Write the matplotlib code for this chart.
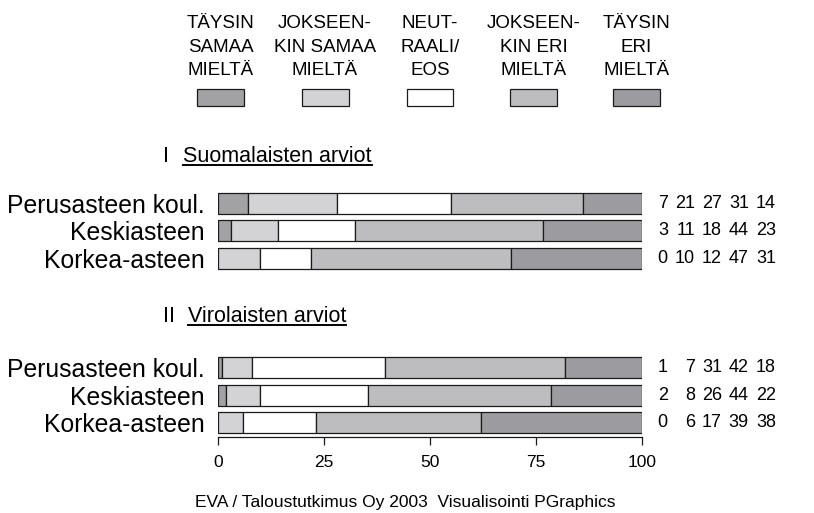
import matplotlib
matplotlib.use('Agg')
import matplotlib.pyplot as plt
from matplotlib import font_manager
from matplotlib.patches import Rectangle
from matplotlib.lines import Line2D
import numpy as np

plt.rcParams['font.family'] = ['Liberation Sans', 'DejaVu Sans']

# data
rows = ['Perusasteen koul.', 'Keskiasteen', 'Korkea-asteen']
finns = [[7, 21, 27, 31, 14],
         [3, 11, 18, 44, 23],
         [0, 10, 12, 47, 31]]
estonians = [[1, 7, 31, 42, 18],
             [2, 8, 26, 44, 22],
             [0, 6, 17, 39, 38]]
group_titles = ['Suomalaisten arviot', 'Virolaisten arviot']
group_numerals = ['I', 'II']
answer_labels = [['TÄYSIN', 'SAMAA', 'MIELTÄ'],
                 ['JOKSEEN-', 'KIN SAMAA', 'MIELTÄ'],
                 ['NEUT-', 'RAALI/', 'EOS'],
                 ['JOKSEEN-', 'KIN ERI', 'MIELTÄ'],
                 ['TÄYSIN', 'ERI', 'MIELTÄ']]
colors = ['#a2a2a5', '#d3d3d5', '#ffffff', '#bdbdbf', '#9c9ca0']
credit = 'EVA / Taloustutkimus Oy 2003  Visualisointi PGraphics'

W, H = 814, 513
fig = plt.figure(figsize=(W / 100, H / 100), dpi=100)

def fx(px):
    return px / W

def fy(py):
    return (H - py) / H

ax = fig.add_axes([fx(218), fy(437), fx(642) - fx(218), (437 - 189.8) / H])

positions = [0, 1, 2, 6, 7, 8]
all_rows = finns + estonians
edge = '#1a1a1a'
for pos, vals in zip(positions, all_rows):
    vals = np.array(vals, dtype=float)
    shares = vals / vals.sum() * 100
    lefts = np.concatenate([[0], np.cumsum(shares)[:-1]])
    ax.barh([pos] * 5, shares, left=lefts, height=0.77, color=colors,
            edgecolor=edge, linewidth=0.9)
    for k, v in enumerate(vals):
        ax.text(106.1 + k * 6.37, pos, f'{int(v)}', ha='right', va='center',
                fontsize=13, clip_on=False)

ax.set_xlim(0, 100)
ax.set_ylim(8.53, -0.5)
ax.set_yticks(positions)
ax.set_yticklabels(rows + rows, fontsize=17.8)
ax.tick_params(axis='y', length=0, pad=9.4)
ax.set_xticks([0, 25, 50, 75, 100])
ax.tick_params(axis='x', length=6, width=0.9, pad=7, labelsize=12.5, color=edge)
for s in ['left', 'top', 'right']:
    ax.spines[s].set_visible(False)
ax.spines['bottom'].set_linewidth(0.9)
ax.spines['bottom'].set_color(edge)

# legend
names = {f.name for f in font_manager.fontManager.ttflist}
if 'Liberation Sans Narrow' in names:
    leg_font, leg_size = 'Liberation Sans Narrow', 15
else:
    leg_font, leg_size = 'Liberation Sans', 13.5
centers = [220.5, 325, 430, 533.5, 636.5]
for cx, lines, c in zip(centers, answer_labels, colors):
    for line, base in zip(lines, [28, 51.5, 75]):
        fig.text(fx(cx), fy(base), line, ha='center', va='baseline',
                 fontsize=leg_size, family=[leg_font, 'DejaVu Sans'])
    fig.patches.append(Rectangle((fx(cx - 23.5), fy(106)), fx(47), 17 / H,
                                 facecolor=c, edgecolor=edge, linewidth=0.9,
                                 transform=fig.transFigure, figure=fig))

# group headings
heads = []
for num, title, base, tx in zip(group_numerals, group_titles, [162, 322], [183, 188]):
    fig.text(fx(163), fy(base), num, ha='left', va='baseline', fontsize=15.5)
    heads.append((fig.text(fx(tx), fy(base), title, ha='left', va='baseline',
                           fontsize=15.5), base))

fig.text(fx(405), fy(503), credit, ha='center', va='center', fontsize=12.5)

fig.canvas.draw()
renderer = fig.canvas.get_renderer()
for t, base in heads:
    bb = t.get_window_extent(renderer)
    y = fy(base + 2.5)
    fig.lines.append(Line2D([bb.x0 / W, bb.x1 / W], [y, y], color='black',
                            linewidth=1.4, transform=fig.transFigure))

fig.savefig('out.png', dpi=100)
